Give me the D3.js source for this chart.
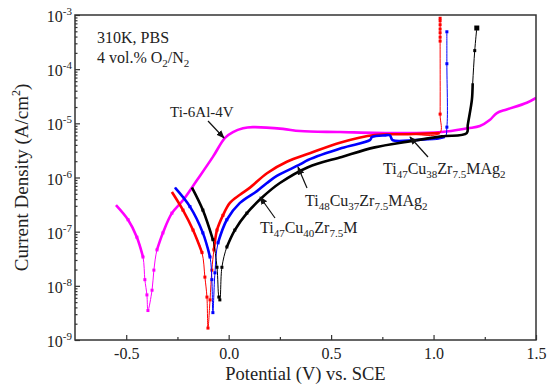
<!DOCTYPE html>
<html>
<head>
<meta charset="utf-8">
<script src="https://cdn.jsdelivr.net/npm/d3@7"></script>
<style>
  body { margin: 0; background: #fff; }
  svg text { font-family: "Liberation Serif", "Times New Roman", serif; fill: #222; }
</style>
</head>
<body>
<svg id="chart" width="550" height="387"></svg>
<script>
// potential (V vs. SCE) and current density (A/cm2)
const tiAlV_E = [-0.55, -0.491, -0.448, -0.418, -0.409, -0.399, -0.394, -0.374, -0.365, -0.35, -0.321, -0.277, -0.223, -0.155, -0.077, -0.018, 0.021, 0.07, 0.118, 0.265, 0.348, 0.543, 0.835, 1.04, 1.167, 1.226, 1.274, 1.309, 1.357, 1.455, 1.5];
const tiAlV_I = [3.1e-7, 1.66e-7, 7.9e-8, 3.4e-8, 1.3e-8, 6.8e-9, 3.5e-9, 8.3e-9, 1.95e-8, 4.6e-8, 9.5e-8, 2.2e-7, 3.8e-7, 8.9e-7, 2.4e-6, 5.4e-6, 6.9e-6, 8.1e-6, 8.5e-6, 7.9e-6, 7.2e-6, 6.9e-6, 6.6e-6, 6.9e-6, 8.1e-6, 8.9e-6, 1.15e-5, 1.55e-5, 1.8e-5, 2.4e-5, 2.95e-5];

const red_E = [-0.277, -0.223, -0.174, -0.130, -0.116, -0.106, -0.101, -0.091, -0.082, -0.072, -0.057, -0.028, 0.006, 0.055, 0.104, 0.187, 0.284, 0.396, 0.543, 0.713, 0.874, 1.03, 1.032, 1.032, 1.032, 1.032, 1.032, 1.032, 1.032, 1.032];
const red_I = [5.4e-7, 2.5e-7, 1.07e-7, 4.1e-8, 1.45e-8, 6.2e-9, 1.66e-9, 5.5e-9, 1.95e-8, 4.6e-8, 1.07e-7, 2.0e-7, 3.4e-7, 4.8e-7, 6.5e-7, 1.2e-6, 1.95e-6, 2.8e-6, 4.4e-6, 6.1e-6, 6.3e-6, 6.6e-6, 1.48e-5, 3.3e-4, 3.9e-4, 4.7e-4, 5.5e-4, 6.6e-4, 7.8e-4, 8.7e-4];

const blue_E = [-0.262, -0.189, -0.126, -0.091, -0.082, -0.077, -0.067, -0.052, -0.009, 0.055, 0.138, 0.187, 0.235, 0.348, 0.387, 0.552, 0.689, 0.70, 0.763, 0.787, 0.80, 0.909, 1.055, 1.065, 1.065, 1.065];
const blue_I = [6.5e-7, 2.9e-7, 9.5e-8, 3.4e-8, 1.3e-8, 3.2e-9, 1.74e-8, 6.2e-8, 1.66e-7, 3.4e-7, 5.6e-7, 7.9e-7, 1.07e-6, 1.74e-6, 2.1e-6, 3.5e-6, 4.9e-6, 5.6e-6, 6.0e-6, 6.0e-6, 4.9e-6, 4.9e-6, 5.6e-6, 8.5e-6, 1.26e-4, 4.9e-4];

const black_E = [-0.179, -0.126, -0.077, -0.057, -0.048, -0.043, -0.033, -0.009, 0.030, 0.089, 0.167, 0.25, 0.387, 0.552, 0.713, 0.874, 1.04, 1.162, 1.167, 1.187, 1.191, 1.201, 1.211];
const black_I = [6.5e-7, 2.5e-7, 7.1e-8, 2.2e-8, 6.2e-9, 5.5e-9, 2.2e-8, 5.2e-8, 1.07e-7, 2.2e-7, 4.4e-7, 7.9e-7, 1.55e-6, 2.4e-6, 3.6e-6, 4.6e-6, 5.75e-6, 6.6e-6, 9.3e-6, 2.7e-5, 5.5e-5, 2.2e-4, 5.75e-4];

const xTicks = [-0.5, 0.0, 0.5, 1.0, 1.5];
const xMinorTicks = [-0.25, 0.25, 0.75, 1.25];
const yExponents = [-9, -8, -7, -6, -5, -4, -3];

const series = [
  { E: tiAlV_E, I: tiAlV_I, color: "#ff00ff", vert: 99, heavyTop: 1 },
  { E: red_E, I: red_I, color: "#ff0000", vert: 1.031, heavyTop: 1e-4 },
  { E: blue_E, I: blue_I, color: "#0000ff", vert: 1.06, heavyTop: 1e-4 },
  { E: black_E, I: black_I, color: "#000000", vert: 99, heavyTop: 6e-5 }
];

const svg = d3.select("#chart");
const m = { left: 75, top: 15, right: 536, bottom: 340 };

const x = d3.scaleLinear().domain([-0.75, 1.5]).range([m.left, m.right]);
const y = d3.scaleLog().domain([1e-9, 1e-3]).range([m.bottom, m.top]);

// axes, ticks pointing inward
svg.append("g")
  .attr("transform", `translate(0,${m.bottom})`)
  .call(d3.axisBottom(x).tickValues(xTicks).tickSize(-5).tickPadding(8)
    .tickFormat(d3.format(".1f")))
  .call(g => g.select(".domain").remove())
  .call(g => g.selectAll("text").attr("font-size", 16).attr("fill", "#222")
    .text(d => d < 0 ? "-" + d3.format(".1f")(-d) : d3.format(".1f")(d)));

svg.append("g")
  .attr("transform", `translate(0,${m.bottom})`)
  .call(d3.axisBottom(x).tickValues(xMinorTicks).tickSize(-3).tickFormat(""))
  .call(g => g.select(".domain").remove());

const yMajor = yExponents.map(e => Math.pow(10, e));
const yMinor = [];
yExponents.slice(0, -1).forEach(e => {
  for (let k = 2; k <= 9; k++) yMinor.push(k * Math.pow(10, e));
});

svg.append("g")
  .attr("transform", `translate(${m.left},0)`)
  .call(d3.axisLeft(y).tickValues(yMajor).tickSize(-5).tickFormat(""))
  .call(g => g.select(".domain").remove());

svg.append("g")
  .attr("transform", `translate(${m.left},0)`)
  .call(d3.axisLeft(y).tickValues(yMinor).tickSize(-2.5).tickFormat(""))
  .call(g => g.select(".domain").remove());

svg.selectAll("g.tick line").attr("stroke", "#333").attr("stroke-width", 1.2);

const yLab = svg.append("g").selectAll("text")
  .data(yExponents).join("text")
  .attr("x", m.left - 3)
  .attr("y", e => y(Math.pow(10, e)) + 7)
  .attr("text-anchor", "end")
  .attr("font-size", 16);
yLab.append("tspan").text("10");
yLab.append("tspan").attr("font-size", 11).attr("dy", -7).text(e => e);

// curves
svg.append("clipPath").attr("id", "plotclip").append("rect")
  .attr("x", m.left).attr("y", m.top)
  .attr("width", m.right - m.left).attr("height", m.bottom - m.top);

const plot = svg.append("g").attr("clip-path", "url(#plotclip)");

series.forEach(s => {
  const pts = s.E.map((e, i) => ({ e: e, v: s.I[i] }));
  const line = d3.line().x(d => x(d.e)).y(d => y(d.v)).curve(d3.curveCatmullRom.alpha(0.5));
  // thin trace through every point
  plot.append("path").datum(pts)
    .attr("fill", "none").attr("stroke", s.color).attr("stroke-width", 1)
    .attr("d", line);
  // heavy trace where the measured points are dense
  plot.append("path").datum(pts)
    .attr("fill", "none").attr("stroke", s.color).attr("stroke-width", 2.6)
    .attr("stroke-linejoin", "round")
    .attr("d", line.defined(d => d.v > 3e-8 && d.e < s.vert && d.v < s.heavyTop));
  // point markers in the low-current dip and on the breakdown jumps
  plot.append("g").selectAll("rect")
    .data(pts.filter(d => d.v < 3e-7 || d.e >= s.vert || d.v > s.heavyTop))
    .join("rect")
    .attr("x", d => x(d.e) - 1.5).attr("y", d => y(d.v) - 1.5)
    .attr("width", 3).attr("height", 3)
    .attr("fill", s.color);
});

// end point of the black breakdown branch
const lastE = black_E[black_E.length - 1], lastI = black_I[black_I.length - 1];
plot.append("rect")
  .attr("x", x(lastE) - 2.5).attr("y", y(lastI) - 2.5)
  .attr("width", 5).attr("height", 5).attr("fill", "#000");

// frame
svg.append("rect")
  .attr("x", m.left).attr("y", m.top)
  .attr("width", m.right - m.left).attr("height", m.bottom - m.top)
  .attr("fill", "none").attr("stroke", "#333").attr("stroke-width", 1.5);

// axis titles
svg.append("text")
  .attr("x", (m.left + m.right) / 2).attr("y", 380)
  .attr("text-anchor", "middle").attr("font-size", 18.5)
  .text("Potential (V) vs. SCE");

const yt = svg.append("text")
  .attr("transform", `translate(28,${(m.top + m.bottom) / 2}) rotate(-90)`)
  .attr("text-anchor", "middle").attr("font-size", 19);
yt.append("tspan").text("Current Density (A/cm");
yt.append("tspan").attr("font-size", 12).attr("dy", -8).text("2");
yt.append("tspan").attr("dy", 8).text(")");

// condition note
svg.append("text").attr("x", 97).attr("y", 43).attr("font-size", 16).text("310K, PBS");
const note = svg.append("text").attr("x", 97).attr("y", 63).attr("font-size", 16);
note.append("tspan").text("4 vol.% O");
note.append("tspan").attr("font-size", 11).attr("dy", 4).text("2");
note.append("tspan").attr("dy", -4).text("/N");
note.append("tspan").attr("font-size", 11).attr("dy", 4).text("2");

// alloy labels with subscripts
function formula(xp, yp, parts) {
  const t = svg.append("text").attr("x", xp).attr("y", yp).attr("font-size", 16);
  let sub = false;
  parts.forEach(p => {
    const isSub = p[1] === 1;
    const ts = t.append("tspan").text(p[0]);
    if (isSub) ts.attr("font-size", 11);
    if (isSub !== sub) ts.attr("dy", isSub ? 4 : -4);
    sub = isSub;
  });
}
svg.append("text").attr("x", 170).attr("y", 117).attr("font-size", 15).text("Ti-6Al-4V");
formula(383, 174, [["Ti", 0], ["47", 1], ["Cu", 0], ["38", 1], ["Zr", 0], ["7.5", 1], ["MAg", 0], ["2", 1]]);
formula(305, 206, [["Ti", 0], ["48", 1], ["Cu", 0], ["37", 1], ["Zr", 0], ["7.5", 1], ["MAg", 0], ["2", 1]]);
formula(260, 233, [["Ti", 0], ["47", 1], ["Cu", 0], ["40", 1], ["Zr", 0], ["7.5", 1], ["M", 0]]);

// arrows
svg.append("defs").append("marker")
  .attr("id", "ah").attr("viewBox", "0 0 10 10").attr("refX", 9).attr("refY", 5)
  .attr("markerWidth", 7).attr("markerHeight", 7).attr("orient", "auto")
  .append("path").attr("d", "M0,1 L10,5 L0,9 Z").attr("fill", "#111");

const arrows = [[208, 121, 224, 138], [428, 157, 410, 137], [307, 188, 298, 167], [275, 218, 260, 197]];
svg.append("g").selectAll("line").data(arrows).join("line")
  .attr("x1", d => d[0]).attr("y1", d => d[1]).attr("x2", d => d[2]).attr("y2", d => d[3])
  .attr("stroke", "#111").attr("stroke-width", 1.2).attr("marker-end", "url(#ah)");
</script>
</body>
</html>
